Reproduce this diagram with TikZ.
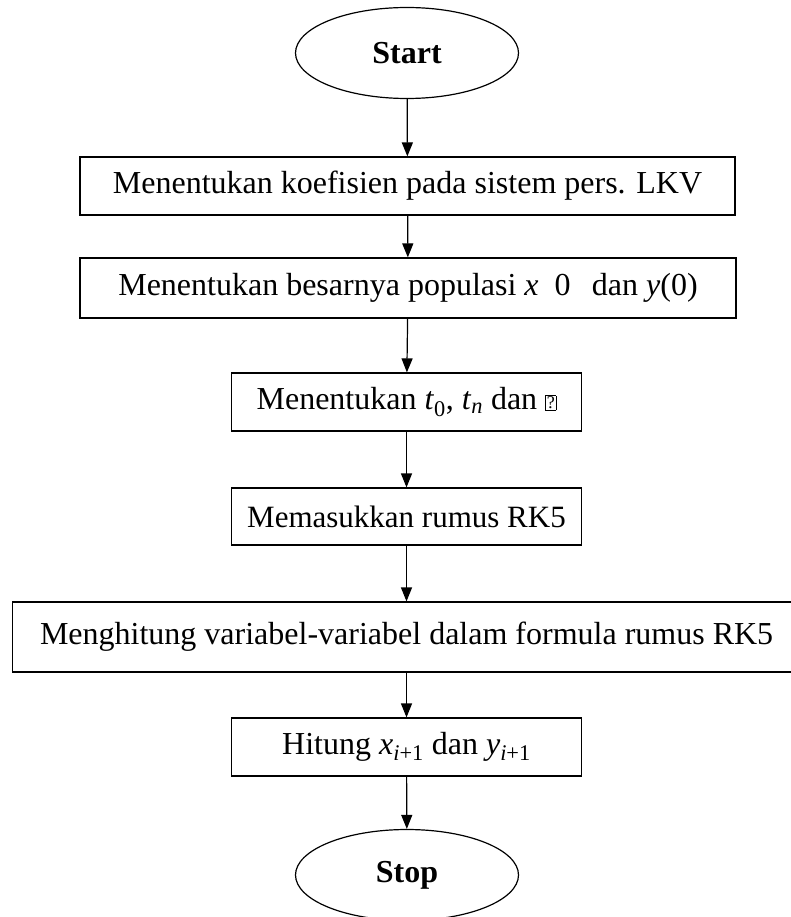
\documentclass[tikz,border=0pt]{standalone}
\usepackage{fontspec}
\setmainfont{Liberation Serif}
\usetikzlibrary{shapes.geometric,arrows.meta}
\tikzset{
  procbox/.style={draw, line width=1.2pt, rectangle, minimum height=58pt, inner sep=0pt, font=\fontsize{32}{38}\selectfont},
  termnode/.style={draw, line width=1.2pt, ellipse, minimum width=223pt, minimum height=91pt, inner sep=0pt, font=\fontsize{32}{38}\selectfont\bfseries},
  flow/.style={-{Triangle[length=14pt,width=11pt]}, line width=1.2pt}
}
\newcommand{\missingglyph}{{\setlength{\fboxsep}{0.8pt}\setlength{\fboxrule}{0.8pt}\raisebox{1pt}{\fbox{\fontsize{18}{18}\selectfont ?}}}}
\newcommand{\var}[1]{\textit{#1}}
\begin{document}
\begin{tikzpicture}[x=1pt,y=-1pt]
\useasboundingbox (0,0) rectangle (790,917);
\node[termnode] (start) at (407,53) {Start};
\node[procbox, minimum width=655pt] (b1) at (407.5,186) {Menentukan koefisien pada sistem pers. LKV};
\node[procbox, minimum width=656pt, minimum height=60pt] (b2) at (408,288) {Menentukan besarnya populasi \var{x}\ \ 0\ \ \,dan \var{y}(0)};
\node[procbox, minimum width=350pt] (b3) at (406.5,402) {Menentukan \var{t}\textsubscript{0}, \var{t}\textsubscript{\var{n}} dan \missingglyph};
\node[procbox, minimum width=350pt, minimum height=57pt] (b4) at (406.5,516.5) {\fontsize{31}{36}\selectfont Memasukkan rumus RK5};
\node[procbox, minimum width=800pt, minimum height=70pt, anchor=west] (b5) at (12,637) {\hspace{-12pt}Menghitung variabel-variabel dalam formula rumus RK5};
\node[procbox, minimum width=350pt] (b6) at (406.5,747) {Hitung \var{x}\textsubscript{\var{i}+1} dan \var{y}\textsubscript{\var{i}+1}};
\node[termnode] (stop) at (407,875) {Stop};
\draw[flow] (start) -- (b1);
\draw[flow] (b1) -- (b2);
\draw[flow] (b2) -- (b3);
\draw[flow] (b3) -- (b4);
\draw[flow] (b4.south) -- (b4.south |- b5.north);
\draw[flow] (b5.south -| b4.south) -- (b6);
\draw[flow] (b6) -- (stop);
\end{tikzpicture}
\end{document}
